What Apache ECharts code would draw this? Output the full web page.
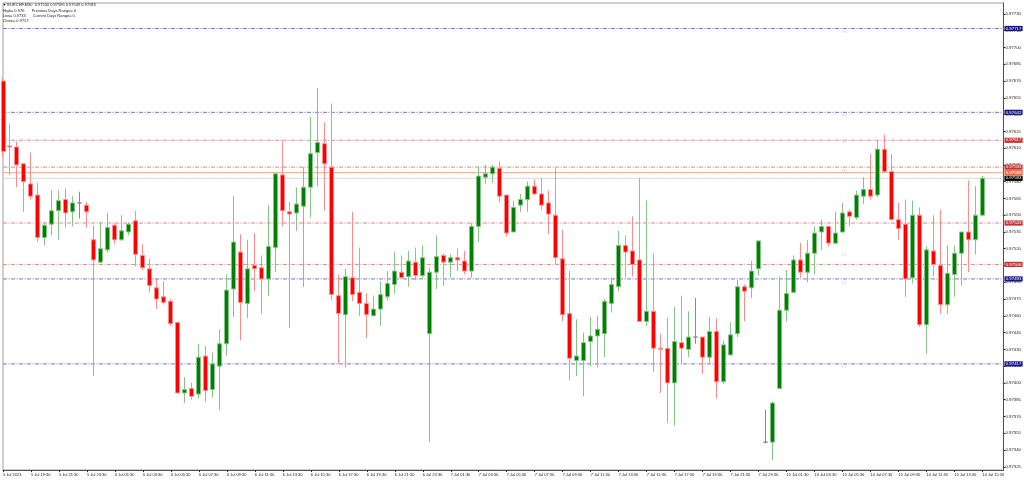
<!DOCTYPE html>
<html>
<head>
<meta charset="utf-8">
<script src="https://cdn.jsdelivr.net/npm/echarts@6/dist/echarts.min.js"></script>
<style>
html,body{margin:0;padding:0;background:#fff;}
#chart{width:1024px;height:480px;}
</style>
</head>
<body>
<div id="chart"></div>
<script>
// ---- data (EURCHF, M30) ----
const opens = [0.97670,0.97612,0.97611,0.97596,0.97578,0.97568,0.97530,0.97542,0.97554,0.97564,0.97553,0.97561,0.97559,0.97528,0.97508,0.97519,0.97541,0.97528,0.97535,0.97545,
0.97514,0.97502,0.97485,0.97477,0.97473,0.97454,0.97391,0.97395,0.97390,0.97424,0.97394,0.97415,0.97435,0.97484,0.97517,0.97471,0.97505,0.97503,0.97493,0.97521,
0.97586,0.97553,0.97552,0.97558,0.97575,0.97606,0.97614,0.97593,0.97478,0.97461,0.97494,0.97481,0.97471,0.97460,0.97466,0.97477,0.97488,0.97499,0.97495,0.97508,
0.97496,0.97444,0.97499,0.97514,0.97508,0.97512,0.97509,0.97500,0.97540,0.97584,0.97587,0.97592,0.97568,0.97535,0.97559,0.97564,0.97576,0.97569,0.97561,0.97550,
0.97511,0.97462,0.97420,0.97420,0.97437,0.97442,0.97444,0.97471,0.97486,0.97523,0.97518,0.97510,0.97455,0.97464,0.97431,0.97431,0.97400,0.97436,0.97430,0.97441,
0.97441,0.97423,0.97446,0.97401,0.97425,0.97444,0.97486,0.97485,0.97502,0.97347,0.97347,0.97395,0.97465,0.97481,0.97510,0.97499,0.97516,0.97535,0.97540,0.97525,
0.97535,0.97553,0.97548,0.97567,0.97573,0.97568,0.97609,0.97589,0.97546,0.97542,0.97494,0.97550,0.97452,0.97518,0.97505,0.97470,0.97497,0.97516,0.97535,0.97528,
0.97550];
const closes = [0.97607,0.97611,0.97595,0.97580,0.97567,0.97530,0.97541,0.97554,0.97563,0.97552,0.97561,0.97561,0.97553,0.97510,0.97520,0.97539,0.97528,0.97536,0.97542,0.97515,
0.97503,0.97487,0.97475,0.97472,0.97453,0.97391,0.97394,0.97388,0.97423,0.97393,0.97417,0.97435,0.97483,0.97526,0.97472,0.97502,0.97502,0.97493,0.97522,0.97587,
0.97554,0.97551,0.97560,0.97575,0.97605,0.97615,0.97596,0.97479,0.97462,0.97495,0.97479,0.97471,0.97461,0.97466,0.97479,0.97489,0.97500,0.97494,0.97509,0.97496,
0.97512,0.97499,0.97513,0.97508,0.97512,0.97510,0.97500,0.97540,0.97585,0.97587,0.97593,0.97567,0.97534,0.97557,0.97564,0.97576,0.97569,0.97559,0.97551,0.97512,
0.97461,0.97422,0.97424,0.97436,0.97442,0.97448,0.97473,0.97488,0.97523,0.97517,0.97506,0.97455,0.97464,0.97431,0.97430,0.97400,0.97437,0.97431,0.97441,0.97441,
0.97423,0.97446,0.97401,0.97434,0.97443,0.97486,0.97482,0.97500,0.97527,0.97347,0.97382,0.97465,0.97480,0.97510,0.97499,0.97516,0.97534,0.97540,0.97525,0.97534,
0.97552,0.97549,0.97568,0.97573,0.97567,0.97609,0.97589,0.97546,0.97538,0.97493,0.97550,0.97452,0.97519,0.97506,0.97470,0.97498,0.97516,0.97535,0.97528,0.97550,
0.97583];
const lows = [0.97602,0.97586,0.97575,0.97553,0.97564,0.97526,0.97523,0.97532,0.97528,0.97539,0.97540,0.97547,0.97539,0.97406,0.97508,0.97517,0.97524,0.97527,0.97532,0.97504,
0.97501,0.97481,0.97466,0.97470,0.97451,0.97390,0.97382,0.97385,0.97386,0.97383,0.97387,0.97376,0.97424,0.97459,0.97438,0.97458,0.97482,0.97462,0.97478,0.97499,
0.97540,0.97449,0.97536,0.97486,0.97548,0.97576,0.97554,0.97474,0.97417,0.97414,0.97473,0.97460,0.97440,0.97460,0.97451,0.97474,0.97480,0.97494,0.97486,0.97492,
0.97494,0.97347,0.97484,0.97487,0.97494,0.97500,0.97497,0.97494,0.97526,0.97578,0.97579,0.97562,0.97531,0.97535,0.97553,0.97553,0.97568,0.97555,0.97533,0.97506,
0.97455,0.97402,0.97406,0.97388,0.97415,0.97414,0.97423,0.97463,0.97482,0.97494,0.97495,0.97455,0.97451,0.97410,0.97391,0.97364,0.97362,0.97417,0.97423,0.97435,
0.97408,0.97418,0.97386,0.97399,0.97425,0.97441,0.97455,0.97476,0.97496,0.97346,0.97331,0.97395,0.97455,0.97481,0.97494,0.97490,0.97497,0.97519,0.97522,0.97524,
0.97534,0.97540,0.97546,0.97560,0.97564,0.97566,0.97589,0.97546,0.97528,0.97477,0.97489,0.97450,0.97426,0.97495,0.97462,0.97462,0.97477,0.97487,0.97499,0.97515,
0.97549];
const highs = [0.97673,0.97632,0.97616,0.97596,0.97606,0.97579,0.97544,0.97572,0.97572,0.97574,0.97567,0.97571,0.97562,0.97541,0.97544,0.97552,0.97543,0.97550,0.97544,0.97554,
0.97524,0.97511,0.97493,0.97491,0.97475,0.97455,0.97405,0.97400,0.97435,0.97433,0.97427,0.97448,0.97497,0.97567,0.97533,0.97528,0.97534,0.97514,0.97559,0.97587,
0.97617,0.97562,0.97575,0.97593,0.97638,0.97664,0.97633,0.97650,0.97497,0.97502,0.97553,0.97521,0.97480,0.97478,0.97491,0.97500,0.97517,0.97514,0.97518,0.97521,
0.97523,0.97503,0.97532,0.97516,0.97515,0.97520,0.97518,0.97543,0.97594,0.97595,0.97595,0.97598,0.97568,0.97563,0.97569,0.97580,0.97582,0.97583,0.97572,0.97592,
0.97537,0.97500,0.97457,0.97445,0.97459,0.97460,0.97475,0.97494,0.97536,0.97532,0.97549,0.97583,0.97563,0.97516,0.97444,0.97458,0.97468,0.97478,0.97464,0.97476,
0.97441,0.97459,0.97458,0.97438,0.97454,0.97492,0.97488,0.97509,0.97528,0.97376,0.97383,0.97495,0.97501,0.97514,0.97525,0.97528,0.97540,0.97546,0.97540,0.97553,
0.97561,0.97555,0.97572,0.97584,0.97605,0.97617,0.97622,0.97605,0.97561,0.97564,0.97563,0.97557,0.97522,0.97550,0.97555,0.97523,0.97523,0.97535,0.97581,0.97576,
0.97585];

const daySegments = [['5 Jul', 35, 48], ['6 Jul', 0, 48], ['7 Jul', 0, 48], ['10 Jul', 0, 32]];
const xTickLabels = ['5 Jul 2023','5 Jul 19:30','5 Jul 21:30','5 Jul 23:30','6 Jul 01:30','6 Jul 03:30','6 Jul 05:30','6 Jul 07:30','6 Jul 09:30','6 Jul 11:30','6 Jul 13:30','6 Jul 15:30',
'6 Jul 17:30','6 Jul 19:30','6 Jul 21:30','6 Jul 23:30','7 Jul 01:30','7 Jul 03:30','7 Jul 05:30','7 Jul 07:30','7 Jul 09:30','7 Jul 11:30','7 Jul 13:30','7 Jul 15:30',
'7 Jul 17:30','7 Jul 19:30','7 Jul 21:30','7 Jul 23:30','10 Jul 01:30','10 Jul 03:30','10 Jul 05:30','10 Jul 07:30','10 Jul 09:30','10 Jul 11:30','10 Jul 13:30','10 Jul 15:30'];
const yTickValues = [0.97325,0.97340,0.97355,0.97370,0.97385,0.97400,0.97415,0.97430,0.97445,0.97460,0.97475,0.97490,0.97505,0.97520,
0.97535,0.97550,0.97565,0.97580,0.97595,0.97610,0.97625,0.97640,0.97655,0.97670,0.97685,0.97700,0.97715,0.97730];

const levelValues = [0.97717, 0.97642, 0.97617, 0.97593, 0.97543, 0.97506, 0.97493, 0.97417];
const levelKinds  = ['blue','blue','red','red','red','red','blue','blue'];
const levelNames  = ['H4','H3','H2','H1','L1','L2','L3','L4'];
const levelNameValues = [0.977139, 0.976396, 0.976149, 0.975895, 0.975392, 0.975144, 0.974894, 0.974136];
const orangeLineValue = 0.97588;
const closeLineValue = 0.97583;

const yMin = 0.973221, yMax = 0.977398;
const FONT = 'Liberation Sans';

// ---- build ----
const categories = [];
daySegments.forEach(([d, s, e]) => {
  for (let k = s; k < e; k++) {
    const hh = String(Math.floor(k / 2)).padStart(2, '0');
    const mm = k % 2 ? '30' : '00';
    categories.push(d + ' ' + hh + ':' + mm);
  }
});
const nBars = categories.length;
categories.push('+1', '+2', '+3'); // chart shift space on the right
const lastCat = categories.length - 1;

const candles = opens.map((o, i) => [o, closes[i], lows[i], highs[i]]);
const showTick = (idx) => idx % 4 === 0 && idx < nBars;

const styles = {
  blue: {line: '#7474cc', box: '#15158a', type: [4, 1.5, 1, 1.5]},
  red:  {line: '#e08686', box: '#c83232', type: [4, 1.5, 1, 1.5]},
  orange: {line: '#ffa27a', box: '#f2663a', type: 'solid'},
  close: {line: '#d8d8d8', box: '#000000', type: 'solid'}
};

const lineDefs = levelValues.map((v, i) => ({v: v, k: levelKinds[i]}));
lineDefs.push({v: orangeLineValue, k: 'orange'});
lineDefs.push({v: closeLineValue, k: 'close'});

const levelSeries = lineDefs.map((d) => ({
  type: 'line', silent: true, symbol: 'none', clip: false, z: 1,
  data: [[0, d.v], [lastCat, d.v]],
  lineStyle: {color: styles[d.k].line, type: styles[d.k].type, width: 1},
  endLabel: {show: true, distance: 1, formatter: () => d.v.toFixed(5),
    color: '#ffffff', backgroundColor: styles[d.k].box, fontSize: 4.3, fontFamily: FONT,
    padding: [0.7, 1.3, 0.5, 1.3]},
  emphasis: {disabled: true}
}));

const chart = echarts.init(document.getElementById('chart'), null, {renderer: 'canvas'});
const txt = (x, y, s) => ({type: 'text', x: x, y: y, silent: true,
  style: {text: s, fontSize: 4, fontFamily: FONT, fill: '#222', textVerticalAlign: 'middle', verticalAlign: 'middle'}});

chart.setOption({
  animation: false,
  backgroundColor: '#ffffff',
  grid: {left: 2, right: 19, top: 3, bottom: 10, show: true, borderColor: '#a0a0a0', borderWidth: 1, containLabel: false},
  xAxis: {
    type: 'category', data: categories, boundaryGap: false,
    axisLine: {show: true, lineStyle: {color: '#505050', width: 1}},
    axisTick: {show: true, interval: showTick, length: 2, lineStyle: {color: '#303030'}},
    axisLabel: {interval: showTick, formatter: (v, idx) => xTickLabels[idx / 4] || '',
      fontSize: 4, fontFamily: FONT, color: '#222', align: 'left', margin: 2.5},
    splitLine: {show: false}
  },
  yAxis: {
    type: 'value', position: 'right', min: yMin, max: yMax, scale: true,
    axisLine: {show: true, lineStyle: {color: '#505050', width: 1}},
    axisTick: {show: true, customValues: yTickValues, length: 2, lineStyle: {color: '#303030'}},
    axisLabel: {customValues: yTickValues, formatter: (v) => v.toFixed(5),
      fontSize: 4.3, fontFamily: FONT, color: '#222', margin: 2},
    splitLine: {show: false}
  },
  graphic: [
    txt(2.5, 5.2, '\u25BC'),
    txt(7.3, 5.2, 'EURCHF,M30  0.97550 0.97585 0.97549 0.97583'),
    txt(2.7, 10.5, 'High= 0.976'),
    txt(31.7, 10.5, 'Previous Days Range= 0'),
    txt(2.7, 15.8, 'Low= 0.9733'),
    txt(32.7, 15.8, 'Current Days Range= 0'),
    txt(2.7, 21.1, 'Close= 0.9757')
  ],
  series: levelSeries.concat([
    {
      type: 'candlestick', z: 3,
      data: candles,
      barWidth: 4.5,
      clip: true,
      itemStyle: {
        color: '#008000', color0: '#ff0000',
        borderColor: '#86c386', borderColor0: '#ff8c8c', borderColorDoji: '#8a8a8a',
        borderWidth: 1
      }
    },
    {
      type: 'scatter', silent: true, symbolSize: 1, z: 2,
      itemStyle: {color: 'rgba(0,0,0,0)'},
      data: levelNames.map((n, i) => ({name: n, value: [120, levelNameValues[i]]})),
      label: {show: true, formatter: '{b}', position: [0, 0], align: 'left', verticalAlign: 'middle',
        fontSize: 4, fontFamily: FONT, color: '#c4c4c4'}
    }
  ])
});
</script>
</body>
</html>
